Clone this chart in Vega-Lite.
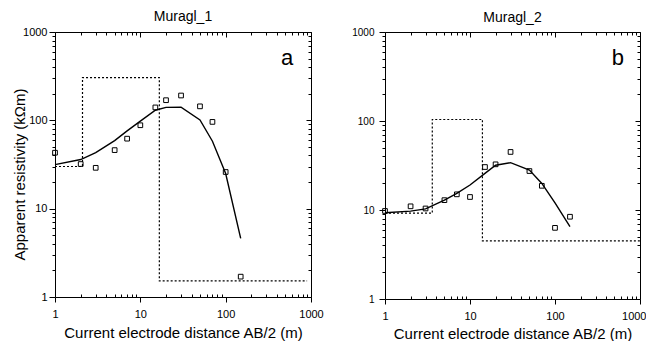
{
  "$schema": "https://vega.github.io/schema/vega-lite/v6.json",
  "padding": {"left": 12, "top": 10, "right": 0, "bottom": 0},
  "background": "white",
  "config": {
    "font": "Liberation Sans",
    "view": {"stroke": null},
    "axis": {"grid": false, "domainColor": "black", "tickColor": "black", "labelColor": "black", "titleColor": "black", "labelFontSize": 11, "titleFontSize": 15, "titleFontWeight": "normal", "labelFlush": false, "labelOverlap": false, "domainWidth": 1, "tickWidth": 1},
    "title": {"fontSize": 14, "fontWeight": "normal", "offset": 2, "color": "black"}
  },
  "datasets": {
    "obsA": [{"x":1,"y":43},{"x":2,"y":32},{"x":3,"y":29},{"x":5,"y":46},{"x":7,"y":62},{"x":10,"y":88},{"x":15,"y":140},{"x":20,"y":169},{"x":30,"y":191},{"x":50,"y":144},{"x":70,"y":96},{"x":100,"y":26},{"x":150,"y":1.7}],
    "modelA": [{"x":1,"y":31.5},{"x":2,"y":36},{"x":3,"y":43},{"x":5,"y":59},{"x":7,"y":76},{"x":10,"y":98},{"x":15,"y":130},{"x":20,"y":140},{"x":30,"y":141},{"x":50,"y":101},{"x":70,"y":58},{"x":100,"y":25},{"x":150,"y":4.6}],
    "layersA": [{"i":0,"x":1,"y":30},{"i":1,"x":2.1,"y":30},{"i":2,"x":2.1,"y":305},{"i":3,"x":16.7,"y":305},{"i":4,"x":16.7,"y":1.52},{"i":5,"x":900,"y":1.52}],
    "obsB": [{"x":1,"y":9.75},{"x":2,"y":11.0},{"x":3,"y":10.4},{"x":5,"y":12.9},{"x":7,"y":15.0},{"x":10,"y":14.0},{"x":15,"y":30.4},{"x":20,"y":32.6},{"x":30,"y":44.9},{"x":50,"y":27.4},{"x":70,"y":18.7},{"x":100,"y":6.3},{"x":150,"y":8.4}],
    "modelB": [{"x":1,"y":9.3},{"x":2,"y":9.7},{"x":3,"y":10.3},{"x":5,"y":12.9},{"x":7,"y":15.4},{"x":10,"y":19.1},{"x":15,"y":25.8},{"x":20,"y":31.8},{"x":30,"y":34},{"x":50,"y":28.1},{"x":70,"y":19.9},{"x":100,"y":12},{"x":150,"y":6.5}],
    "layersB": [{"i":0,"x":1,"y":9.2},{"i":1,"x":3.6,"y":9.2},{"i":2,"x":3.6,"y":104},{"i":3,"x":14,"y":104},{"i":4,"x":14,"y":4.5},{"i":5,"x":1000,"y":4.5}],
    "labA": [{"x":525,"y":420,"t":"a"}],
    "labB": [{"x":551,"y":430,"t":"b"}]
  },
  "bounds": "flush",
  "spacing": 74,
  "hconcat": [
    {
      "width": 256, "height": 265,
      "title": {"text": "Muragl_1"},
      "resolve": {"axis": {"x": "independent", "y": "independent"}},
      "layer": [
        {
          "data": {"name": "layersA"},
          "mark": {"type": "line", "color": "black", "strokeWidth": 1.2, "strokeDash": [2, 2]},
          "encoding": {
            "x": {"field": "x", "type": "quantitative", "scale": {"type": "log", "domain": [1, 1000]},
              "axis": {"orient": "bottom", "values": [1,2,3,4,5,6,7,8,9,10,20,30,40,50,60,70,80,90,100,200,300,400,500,600,700,800,900,1000],
                "labelExpr": "(datum.value==1||datum.value==10||datum.value==100||datum.value==1000)?format(datum.value,'d'):''",
                "tickSize": {"condition": {"test": "datum.value==1||datum.value==10||datum.value==100||datum.value==1000", "value": 5}, "value": -3},
                "title": "Current electrode distance AB/2 (m)", "labelPadding": 6, "titlePadding": 6}},
            "y": {"field": "y", "type": "quantitative", "scale": {"type": "log", "domain": [1, 1000]},
              "axis": {"orient": "left", "values": [1,2,3,4,5,6,7,8,9,10,20,30,40,50,60,70,80,90,100,200,300,400,500,600,700,800,900,1000],
                "labelExpr": "(datum.value==1||datum.value==10||datum.value==100||datum.value==1000)?format(datum.value,'d'):''",
                "tickSize": {"condition": {"test": "datum.value==1||datum.value==10||datum.value==100||datum.value==1000", "value": 6}, "value": 3},
                "title": "Apparent resistivity (kΩm)", "labelPadding": 2, "titlePadding": -5, "titleY": 142}},
            "order": {"field": "i", "type": "quantitative"}
          }
        },
        {
          "data": {"name": "obsA"},
          "mark": {"type": "point", "shape": "square", "filled": false, "color": "black", "strokeWidth": 1, "size": 22, "opacity": 1},
          "encoding": {
            "x": {"field": "x", "type": "quantitative", "scale": {"type": "log", "domain": [1, 1000]},
              "axis": {"orient": "top", "values": [1,2,3,4,5,6,7,8,9,10,20,30,40,50,60,70,80,90,100,200,300,400,500,600,700,800,900,1000], "labels": false, "title": null,
                "tickSize": {"condition": {"test": "datum.value==1||datum.value==10||datum.value==100||datum.value==1000", "value": -5}, "value": -3}}},
            "y": {"field": "y", "type": "quantitative", "scale": {"type": "log", "domain": [1, 1000]},
              "axis": {"orient": "right", "values": [1,2,3,4,5,6,7,8,9,10,20,30,40,50,60,70,80,90,100,200,300,400,500,600,700,800,900,1000], "labels": false, "title": null,
                "tickSize": {"condition": {"test": "datum.value==1||datum.value==10||datum.value==100||datum.value==1000", "value": -5}, "value": -3}}}
          }
        },
        {
          "data": {"name": "modelA"},
          "mark": {"type": "line", "color": "black", "strokeWidth": 1.4},
          "encoding": {
            "x": {"field": "x", "type": "quantitative", "scale": {"type": "log", "domain": [1, 1000]}, "axis": null},
            "y": {"field": "y", "type": "quantitative", "scale": {"type": "log", "domain": [1, 1000]}, "axis": null}
          }
        },
        {
          "data": {"name": "labA"},
          "mark": {"type": "text", "fontSize": 22, "align": "center", "baseline": "alphabetic", "color": "black"},
          "encoding": {
            "x": {"field": "x", "type": "quantitative", "scale": {"type": "log", "domain": [1, 1000]}, "axis": null},
            "y": {"field": "y", "type": "quantitative", "scale": {"type": "log", "domain": [1, 1000]}, "axis": null},
            "text": {"field": "t"}
          }
        }
      ]
    },
    {
      "width": 255, "height": 267,
      "title": {"text": "Muragl_2"},
      "resolve": {"axis": {"x": "independent", "y": "independent"}},
      "layer": [
        {
          "data": {"name": "layersB"},
          "mark": {"type": "line", "color": "black", "strokeWidth": 1.2, "strokeDash": [2, 2]},
          "encoding": {
            "x": {"field": "x", "type": "quantitative", "scale": {"type": "log", "domain": [1, 1000]},
              "axis": {"orient": "bottom", "values": [1,2,3,4,5,6,7,8,9,10,20,30,40,50,60,70,80,90,100,200,300,400,500,600,700,800,900,1000],
                "labelExpr": "(datum.value==1||datum.value==10||datum.value==100||datum.value==1000)?format(datum.value,'d'):''",
                "tickSize": {"condition": {"test": "datum.value==1||datum.value==10||datum.value==100||datum.value==1000", "value": 5}, "value": -3},
                "labelAlign": {"condition": {"test": "datum.value==1000", "value": "right"}, "value": "center"},
                "labelOffset": {"condition": {"test": "datum.value==1000", "value": 6}, "value": 0},
                "title": "Current electrode distance AB/2 (m)", "labelPadding": 6, "titlePadding": 5}},
            "y": {"field": "y", "type": "quantitative", "scale": {"type": "log", "domain": [1, 1000]},
              "axis": {"orient": "left", "values": [1,2,3,4,5,6,7,8,9,10,20,30,40,50,60,70,80,90,100,200,300,400,500,600,700,800,900,1000],
                "labelExpr": "(datum.value==1||datum.value==10||datum.value==100||datum.value==1000)?format(datum.value,'d'):''",
                "tickSize": {"condition": {"test": "datum.value==1||datum.value==10||datum.value==100||datum.value==1000", "value": 6}, "value": 3},
                "title": null, "labelPadding": 5, "labelFontSize": 10}},
            "order": {"field": "i", "type": "quantitative"}
          }
        },
        {
          "data": {"name": "obsB"},
          "mark": {"type": "point", "shape": "square", "filled": false, "color": "black", "strokeWidth": 1, "size": 22, "opacity": 1},
          "encoding": {
            "x": {"field": "x", "type": "quantitative", "scale": {"type": "log", "domain": [1, 1000]},
              "axis": {"orient": "top", "values": [1,2,3,4,5,6,7,8,9,10,20,30,40,50,60,70,80,90,100,200,300,400,500,600,700,800,900,1000], "labels": false, "title": null,
                "tickSize": {"condition": {"test": "datum.value==1||datum.value==10||datum.value==100||datum.value==1000", "value": -5}, "value": -3}}},
            "y": {"field": "y", "type": "quantitative", "scale": {"type": "log", "domain": [1, 1000]},
              "axis": {"orient": "right", "values": [1,2,3,4,5,6,7,8,9,10,20,30,40,50,60,70,80,90,100,200,300,400,500,600,700,800,900,1000], "labels": false, "title": null,
                "tickSize": {"condition": {"test": "datum.value==1||datum.value==10||datum.value==100||datum.value==1000", "value": -5}, "value": -3}}}
          }
        },
        {
          "data": {"name": "modelB"},
          "mark": {"type": "line", "color": "black", "strokeWidth": 1.4},
          "encoding": {
            "x": {"field": "x", "type": "quantitative", "scale": {"type": "log", "domain": [1, 1000]}, "axis": null},
            "y": {"field": "y", "type": "quantitative", "scale": {"type": "log", "domain": [1, 1000]}, "axis": null}
          }
        },
        {
          "data": {"name": "labB"},
          "mark": {"type": "text", "fontSize": 22, "align": "center", "baseline": "alphabetic", "color": "black"},
          "encoding": {
            "x": {"field": "x", "type": "quantitative", "scale": {"type": "log", "domain": [1, 1000]}, "axis": null},
            "y": {"field": "y", "type": "quantitative", "scale": {"type": "log", "domain": [1, 1000]}, "axis": null},
            "text": {"field": "t"}
          }
        }
      ]
    }
  ]
}
